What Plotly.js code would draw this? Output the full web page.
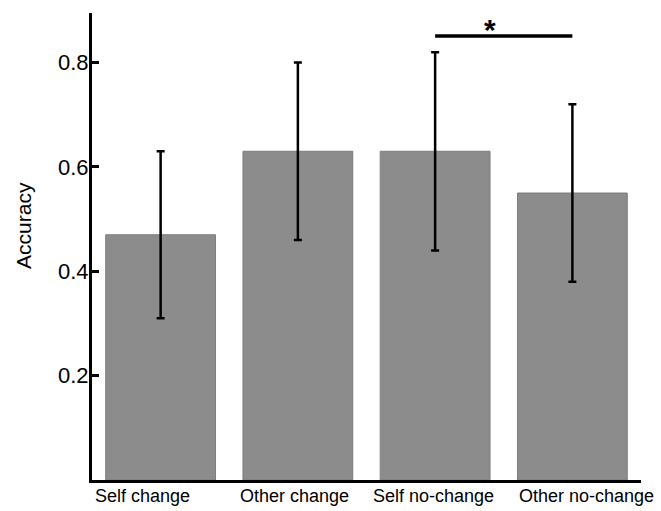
<!DOCTYPE html>
<html>
<head>
<meta charset="utf-8">
<script src="https://cdn.plot.ly/plotly-3.0.1.min.js"></script>
<style>html,body{margin:0;padding:0;background:#fff;}#chart{width:661px;height:511px;}</style>
</head>
<body>
<div id="chart"></div>
<script>
var categories = ['Self change', 'Other change', 'Self no-change', 'Other no-change'];
var accuracy = [0.47, 0.63, 0.63, 0.55];
var errors = [0.16, 0.17, 0.19, 0.17];
var yTickVals = [0.2, 0.4, 0.6, 0.8];
var yTickText = ['0.2', '0.4', '0.6', '0.8'];
var sigPair = ['Self no-change', 'Other no-change'];
var sigLevel = [0.851, 0.851];
var sigMark = '*';
var labelShift = [-18, -3, -2, 14];

var font = 'Liberation Sans, Arial, Helvetica, sans-serif';

var bars = {
  type: 'bar',
  x: categories,
  y: accuracy,
  marker: {color: '#8c8c8c', line: {color: '#7d7d7d', width: 1}},
  error_y: {type: 'data', array: errors, visible: true, color: '#000', thickness: 2.5, width: 4},
  hoverinfo: 'none'
};
var sig = {
  type: 'scatter', mode: 'lines',
  x: sigPair, y: sigLevel,
  line: {color: '#000', width: 3.5},
  hoverinfo: 'none'
};

var annotations = categories.map(function (c, i) {
  return {
    x: c, xref: 'x', y: 0, yref: 'paper', yanchor: 'top', xanchor: 'center',
    yshift: -4, xshift: labelShift[i], showarrow: false, text: c,
    font: {family: font, size: 18, color: '#000'}
  };
});
annotations.push({
  x: 2.5, xref: 'x', y: sigLevel[0], yref: 'y', yanchor: 'bottom', xanchor: 'center',
  yshift: -12, xshift: -14, showarrow: false, text: '<b>' + sigMark + '</b>',
  font: {family: font, size: 30, color: '#000'}
});
annotations.push({
  x: 0, xref: 'paper', xshift: -68, y: 0.544, yref: 'paper', xanchor: 'center', yanchor: 'middle',
  textangle: -90, showarrow: false, text: 'Accuracy',
  font: {family: font, size: 21, color: '#000'}
});

var layout = {
  width: 661, height: 511,
  margin: {l: 92, r: 20, t: 13, b: 31},
  paper_bgcolor: '#fff', plot_bgcolor: '#fff',
  showlegend: false,
  bargap: 0.2,
  font: {family: font, color: '#000'},
  xaxis: {
    type: 'category', range: [-0.5, 3.5], showticklabels: false, ticks: '',
    showgrid: false, zeroline: false, showline: true, linecolor: '#000', linewidth: 3, fixedrange: true
  },
  yaxis: {
    range: [0, 0.895], tickvals: yTickVals, ticktext: yTickText,
    ticks: 'inside', ticklen: 7, tickwidth: 3, tickcolor: '#000',
    ticklabelstandoff: -4,
    tickfont: {family: font, size: 22, color: '#000'},
    showgrid: false, zeroline: false, showline: true, linecolor: '#000', linewidth: 3,
    fixedrange: true
  },
  annotations: annotations
};

Plotly.newPlot('chart', [bars, sig], layout, {displayModeBar: false, staticPlot: true});
</script>
</body>
</html>
